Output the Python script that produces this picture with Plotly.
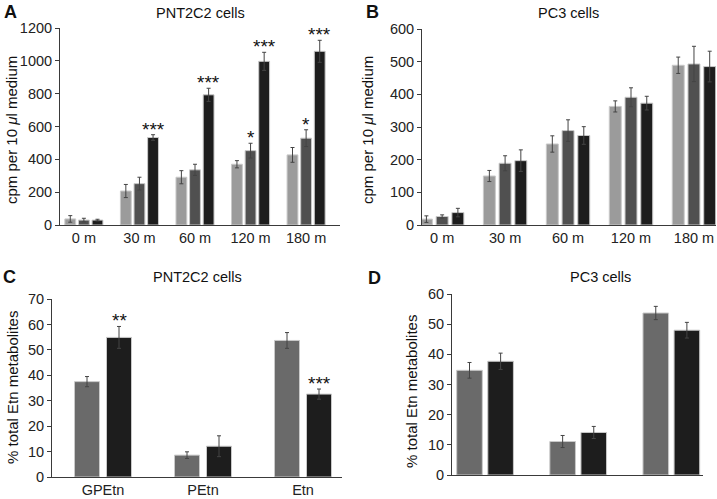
import plotly.graph_objects as go

W, H = 717, 499

# ---------------- data ----------------
time_labels = ["0 m", "30 m", "60 m", "120 m", "180 m"]
metab_labels = ["GPEtn", "PEtn", "Etn"]

A_light = [37, 207, 291, 370, 427]
A_light_err = [20, 40, 40, 22, 45]
A_dark = [30, 252, 336, 453, 529]
A_dark_err = [11, 39, 34, 45, 51]
A_black = [30, 533, 793, 997, 1058]
A_black_err = [5, 17, 40, 55, 67]

B_light = [18, 150, 248, 363, 489]
B_light_err = [10, 17, 25, 17, 25]
B_dark = [26, 189, 289, 391, 493]
B_dark_err = [5, 23, 33, 29, 54]
B_black = [38, 197, 274, 373, 485]
B_black_err = [13, 33, 27, 21, 47]

C_gray = [37.5, 8.6, 53.7]
C_gray_err = [2.0, 1.3, 3.1]
C_black = [54.9, 12.1, 32.6]
C_black_err = [4.3, 4.1, 2.0]

D_gray = [34.7, 11.1, 53.7]
D_gray_err = [2.6, 2.0, 2.2]
D_black = [37.7, 14.1, 48.0]
D_black_err = [2.7, 2.0, 2.6]

A_black_stars = ["", "***", "***", "***", "***"]
A_dark_stars = ["", "", "", "*", "*"]
C_black_stars = ["**", "", "***"]

# ---------------- style ----------------
LIGHT = "#9b9b9b"
DARK = "#505050"
BLACK = "#1d1d1d"
MID = "#6a6a6a"
EDGE = "#c9c9c9"
AX = "#3a3a3a"
FONT = "Liberation Sans, Arial, sans-serif"


def px_x(x):
    return x / W


def px_y(y):
    return 1 - y / H


fig = go.Figure()


def add_bars(vals, errs, color, xa, ya, offset, width):
    fig.add_trace(go.Bar(
        x=list(range(len(vals))), y=vals,
        offset=offset, width=width,
        marker=dict(color=color, line=dict(color=EDGE, width=1)),
        error_y=dict(type="data", array=errs, color="#444444", thickness=1, width=2),
        xaxis=xa, yaxis=ya, showlegend=False,
    ))


def add_stars(vals, errs, stars, xa, ya, center):
    for i, (v, e, s) in enumerate(zip(vals, errs, stars)):
        if s:
            fig.add_annotation(x=i + center, y=v + e, xref=xa, yref=ya, text=s,
                               showarrow=False, yanchor="bottom", yshift=-7,
                               font=dict(size=19, color="#111", family=FONT))


# Panel A
wA, pA = 0.195, 0.245
add_bars(A_light, A_light_err, LIGHT, "x", "y", -pA - wA / 2, wA)
add_bars(A_dark, A_dark_err, DARK, "x", "y", -wA / 2, wA)
add_bars(A_black, A_black_err, BLACK, "x", "y", pA - wA / 2, wA)
add_stars(A_black, A_black_err, A_black_stars, "x", "y", pA)
add_stars(A_dark, A_dark_err, A_dark_stars, "x", "y", 0)

# Panel B
wB, pB = 0.19, 0.25
add_bars(B_light, B_light_err, LIGHT, "x2", "y2", -pB - wB / 2, wB)
add_bars(B_dark, B_dark_err, DARK, "x2", "y2", -wB / 2, wB)
add_bars(B_black, B_black_err, BLACK, "x2", "y2", pB - wB / 2, wB)

# Panel C
wC, pC = 0.25, 0.16
add_bars(C_gray, C_gray_err, MID, "x3", "y3", -pC - wC / 2, wC)
add_bars(C_black, C_black_err, BLACK, "x3", "y3", pC - wC / 2, wC)
add_stars(C_black, C_black_err, C_black_stars, "x3", "y3", pC)

# Panel D
wD, pD = 0.275, 0.167
add_bars(D_gray, D_gray_err, MID, "x4", "y4", -pD - wD / 2, wD)
add_bars(D_black, D_black_err, BLACK, "x4", "y4", pD - wD / 2, wD)


def xaxis(dom, rng, labels, show=True):
    return dict(domain=[px_x(dom[0]), px_x(dom[1])], range=rng,
                tickvals=list(range(len(labels))), ticktext=labels,
                showticklabels=show, ticks="", showline=True, linecolor=AX,
                linewidth=1, showgrid=False, zeroline=False, automargin=False,
                tickfont=dict(size=14.5, color="#222", family=FONT))


def yaxis(dom, rng, dtick, anchor):
    return dict(domain=[px_y(dom[1]), px_y(dom[0])], range=rng, dtick=dtick,
                ticks="outside", ticklen=4, tickcolor=AX, showline=True,
                linecolor=AX, linewidth=1, showgrid=False, zeroline=False,
                anchor=anchor, automargin=False,
                tickfont=dict(size=14.5, color="#222", family=FONT))


fig.update_layout(
    template="none",
    width=W, height=H, margin=dict(l=0, r=0, t=0, b=0, autoexpand=False),
    paper_bgcolor="white", plot_bgcolor="white",
    font=dict(family=FONT, color="#222"),
    barmode="overlay",
    xaxis=dict(**xaxis((60, 340), [-0.43, 4.61], time_labels), anchor="y"),
    yaxis=yaxis((28, 225), [0, 1200], 200, "x"),
    xaxis2=dict(**xaxis((422, 716), [-0.32, 4.35], time_labels), anchor="y2"),
    yaxis2=yaxis((29, 225), [0, 600], 100, "x2"),
    xaxis3=dict(**xaxis((52, 342), [-0.51, 2.39], metab_labels), anchor="y3"),
    yaxis3=yaxis((299, 477), [0, 70], 10, "x3"),
    xaxis4=dict(**xaxis((452, 703), [-0.355, 2.34], metab_labels, show=False), anchor="y4"),
    yaxis4=yaxis((294, 475), [0, 60], 10, "x4"),
)


def text_px(x, y, s, size, bold=False, angle=0):
    fig.add_annotation(x=px_x(x), y=px_y(y), xref="paper", yref="paper",
                       text=f"<b>{s}</b>" if bold else s, showarrow=False,
                       xanchor="center", yanchor="middle", textangle=angle,
                       font=dict(size=size, color="#111", family=FONT))


# Panel letters
text_px(10, 12, "A", 18, bold=True)
text_px(372, 12, "B", 18, bold=True)
text_px(9, 277, "C", 18, bold=True)
text_px(374, 278, "D", 18, bold=True)

# Panel titles
text_px(200, 13, "PNT2C2 cells", 14.5)
text_px(568, 13, "PC3 cells", 14.5)
text_px(197, 277, "PNT2C2 cells", 14.5)
text_px(600, 277, "PC3 cells", 14.5)

# Y-axis titles
ylab = "cpm per 10 <i>\u03bc</i>l medium"
text_px(11, 130, ylab, 15, angle=-90)
text_px(367, 130, ylab, 15, angle=-90)
text_px(12, 388, "% total Etn metabolites", 15, angle=-90)
text_px(411, 392, "% total Etn metabolites", 15, angle=-90)

fig.write_html(
    "out.html",
    config={"displayModeBar": False, "staticPlot": True},
    post_script="document.body.style.margin='0';document.body.style.overflow='hidden';",
)
